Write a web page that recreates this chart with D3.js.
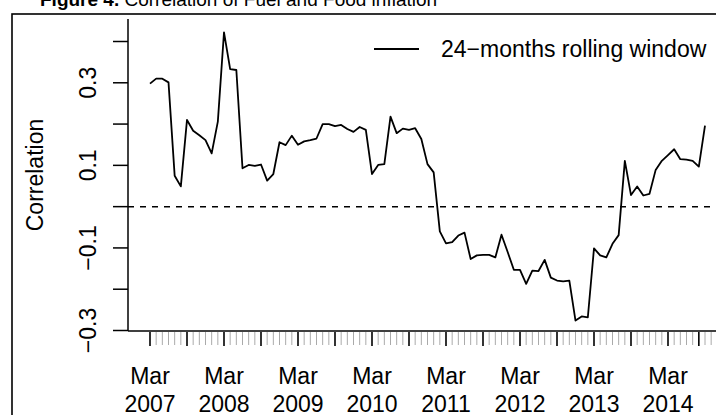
<!DOCTYPE html>
<html>
<head>
<meta charset="utf-8">
<script src="https://cdn.jsdelivr.net/npm/d3@7"></script>
<style>
body{margin:0;background:#fff;}
text{font-family:"Liberation Sans", Arial, Helvetica, sans-serif;}
</style>
</head>
<body>
<div id="chart"></div>
<script>
// rolling correlation, monthly, Mar 2007 -> Sep 2014
const corr = [0.298,0.310,0.310,0.301,0.075,0.049,0.210,0.184,0.173,0.161,0.129,0.206,
  0.422,0.333,0.331,0.093,0.101,0.099,0.102,0.063,0.079,0.156,0.149,0.172,
  0.150,0.158,0.161,0.165,0.200,0.200,0.195,0.198,0.188,0.181,0.193,0.186,
  0.079,0.101,0.103,0.218,0.178,0.189,0.186,0.190,0.164,0.103,0.083,-0.060,
  -0.089,-0.086,-0.070,-0.063,-0.127,-0.118,-0.117,-0.117,-0.123,-0.068,-0.110,-0.153,
  -0.153,-0.187,-0.155,-0.156,-0.129,-0.172,-0.179,-0.181,-0.179,-0.276,-0.266,-0.268,
  -0.101,-0.118,-0.123,-0.090,-0.069,0.111,0.028,0.049,0.027,0.031,0.089,0.111,
  0.125,0.139,0.115,0.114,0.111,0.097,0.196];
const yTicks = [-0.3,-0.2,-0.1,0,0.1,0.2,0.3,0.4];
const yLabels = [-0.3,-0.1,0.1,0.3];
const xLabelMonths = [0,12,24,36,48,60,72,84]; // month index of each "Mar"
const xLabelYears = ["2007","2008","2009","2010","2011","2012","2013","2014"];
const majorTicks = [0,6,12,18,24,30,36,42,48,54,60,66,72,78,84,89];
const minorTicks = d3.range(0,92);

function corr_chart(w=716, h=415){
  const svg = d3.select("#chart").append("svg")
    .attr("width", w).attr("height", h)
    .attr("viewBox", [0, 0, w, h]);

  let x = d3.scaleLinear().domain([0, 90]).range([150, 705]);
  let y = d3.scaleLinear().domain([-0.3, 0.4]).range([330.5, 41.5]);

  // figure frame (runs off the right and bottom edge)
  svg.append("rect").attr("x", 12).attr("y", 14).attr("width", 760).attr("height", 460)
    .attr("fill", "none").attr("stroke", "#000").attr("stroke-width", 1.6);

  // title, cut off at the top
  let t = svg.append("text").attr("x", 40).attr("y", 6).attr("font-size", 19);
  t.append("tspan").attr("font-weight", "bold").text("Figure 4.");
  t.append("tspan").text(" Correlation of Fuel and Food inflation");

  // y axis
  svg.append("line").attr("x1", 128).attr("x2", 128).attr("y1", 19).attr("y2", 331)
    .attr("stroke", "#000").attr("stroke-width", 1.5);
  svg.append("g").selectAll("line").data(yTicks).enter().append("line")
    .attr("x1", 113).attr("x2", 128).attr("y1", d => y(d)).attr("y2", d => y(d))
    .attr("stroke", "#000").attr("stroke-width", 1.5);
  svg.append("g").selectAll("text").data(yLabels).enter().append("text")
    .attr("transform", d => `translate(96,${y(d)}) rotate(-90)`)
    .attr("text-anchor", "middle").attr("font-size", 23)
    .text(d => d3.format(".1f")(d).replace("-", "\u2212"));
  svg.append("text").attr("transform", "translate(43,175) rotate(-90)")
    .attr("text-anchor", "middle").attr("font-size", 23).text("Correlation");

  // x axis, monthly minor ticks in grey, half-year ticks in black
  svg.append("line").attr("x1", 128).attr("x2", w).attr("y1", 331).attr("y2", 331)
    .attr("stroke", "#000").attr("stroke-width", 1.5);
  svg.append("g").selectAll("line").data(minorTicks.filter(d => !majorTicks.includes(d))).enter().append("line")
    .attr("x1", d => x(d)).attr("x2", d => x(d)).attr("y1", 332).attr("y2", 345)
    .attr("stroke", "#aaa").attr("stroke-width", 1);
  svg.append("g").selectAll("line").data(majorTicks).enter().append("line")
    .attr("x1", d => x(d)).attr("x2", d => x(d)).attr("y1", 332).attr("y2", 346)
    .attr("stroke", "#000").attr("stroke-width", 1.6);
  let lab = svg.append("g").selectAll("text").data(xLabelMonths).enter().append("text")
    .attr("text-anchor", "middle").attr("font-size", 23);
  lab.append("tspan").attr("x", d => x(d)).attr("y", 383.5).text("Mar");
  lab.append("tspan").attr("x", d => x(d)).attr("y", 411.5).text((d, i) => xLabelYears[i]);

  // zero line
  svg.append("line").attr("x1", 128).attr("x2", w).attr("y1", y(0)).attr("y2", y(0))
    .attr("stroke", "#000").attr("stroke-width", 1.5).attr("stroke-dasharray", "6,6");

  // series
  svg.append("path").datum(corr)
    .attr("d", d3.line().x((d, i) => x(i)).y(d => y(d)))
    .attr("fill", "none").attr("stroke", "#000").attr("stroke-width", 1.8)
    .attr("stroke-linejoin", "round");

  // legend
  svg.append("line").attr("x1", 374).attr("x2", 419).attr("y1", 49).attr("y2", 49)
    .attr("stroke", "#000").attr("stroke-width", 1.8);
  svg.append("text").attr("x", 441).attr("y", 56.5).attr("font-size", 23)
    .text("24\u2212months rolling window");

  return svg.node();
}
corr_chart();
</script>
</body>
</html>
